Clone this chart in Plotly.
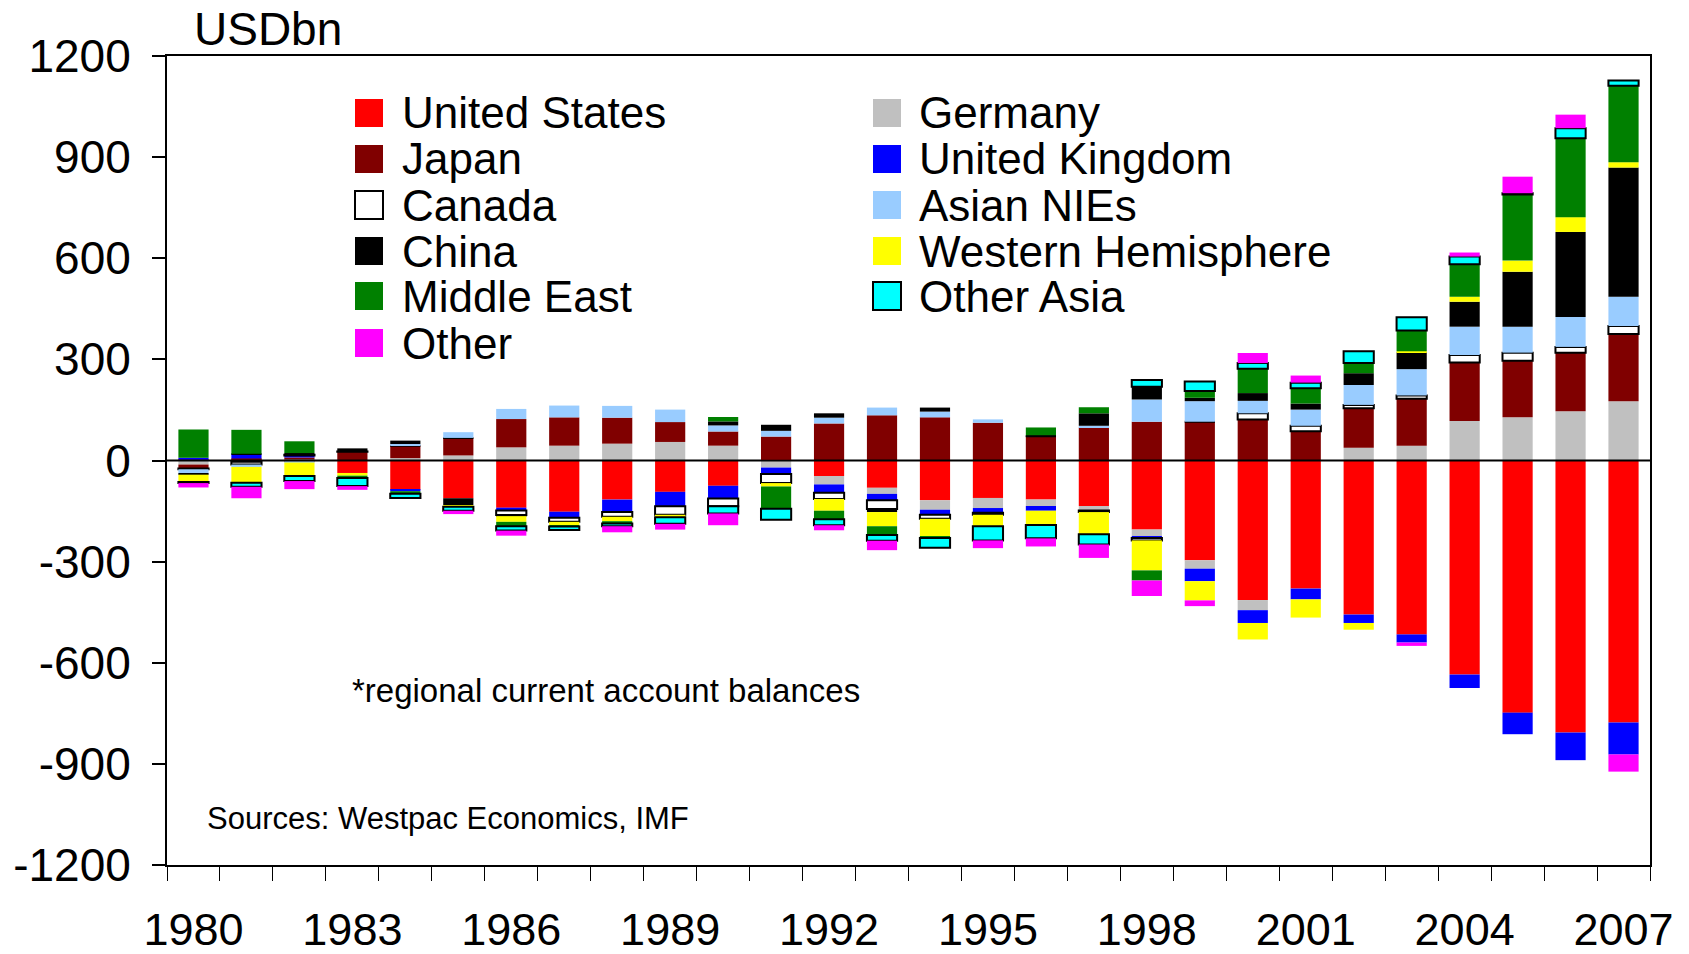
import plotly.graph_objects as go

years = list(range(1980, 2008))

us      = [2, 2, -3, -37, -87, -112, -140, -152, -116, -93, -75, 3, -46, -81, -118, -111, -116, -135, -205, -296, -414, -380, -457, -516, -635, -748, -807, -777]
germany = [-12, -4, 3, 0, 7, 15, 39, 44, 50, 55, 44, -21, -25, -18, -28, -30, -19, -13, -19, -25, -30, 0, 38, 44, 117, 128, 146, 176]
japan   = [-12, 4, 6, 26, 37, 52, 84, 84, 77, 59, 42, 68, 110, 134, 128, 112, 72, 98, 115, 115, 122, 87, 117, 139, 174, 168, 174, 199]
uk      = [6, 13, 6, 0, -4, 0, -8, -18, -37, -43, -38, -19, -25, -19, -15, -14, -14, 0, -6, -37, -38, -32, -25, -24, -40, -64, -82, -95]
canada  = [-2, -8, 2, 1, 0, 0, -14, -12, -14, -25, -23, -27, -18, -26, -12, -6, 0, -5, -7, 0, 18, 16, 10, 10, 22, 24, 17, 24]
nies    = [-14, -7, -3, 0, 5, 17, 30, 35, 35, 37, 18, 17, 17, 23, 17, 10, 0, 5, 66, 61, 37, 48, 59, 78, 84, 77, 89, 87]
china   = [-2, 1, 5, 9, 10, -20, -3, 0, 0, 0, 12, 18, 13, -9, 12, 0, 3, 37, 38, 10, 23, 18, 35, 50, 74, 163, 252, 383]
west_h  = [-22, -47, -40, -8, 0, -5, -17, -10, -13, -7, 0, -10, -35, -42, -52, -34, -42, -66, -89, -57, -49, -54, -20, 3, 15, 33, 44, 16]
mid_e   = [84, 71, 35, -7, -8, 0, -13, -4, -7, 0, 13, -66, -25, -26, -5, 0, 23, 18, -30, 20, 72, 45, 30, 62, 96, 196, 234, 227]
oth_asia= [-3, -12, -15, -24, -12, -12, -13, -10, -8, -20, -21, -33, -18, -17, -29, -42, -40, -30, 20, 28, 17, 17, 35, 39, 23, 4, 30, 15]
other   = [-13, -34, -24, -11, 0, -10, -15, 0, -18, -17, -35, 0, -15, -28, 0, -23, -24, -40, -46, -17, 30, 21, 0, -10, 12, 49, 40, -51]

names  = ["United States", "Germany", "Japan", "United Kingdom", "Canada", "Asian NIEs",
          "China", "Western Hemisphere", "Middle East", "Other Asia", "Other"]
series = [us, germany, japan, uk, canada, nies, china, west_h, mid_e, oth_asia, other]
colors = ["#FF0000", "#C0C0C0", "#800000", "#0000FF", "#FFFFFF", "#99CCFF",
          "#000000", "#FFFF00", "#008000", "#00FFFF", "#FF00FF"]
outlined = {"Canada", "Other Asia"}

y_ticks = [-1200, -900, -600, -300, 0, 300, 600, 900, 1200]
y_ticktext = [str(v) for v in y_ticks]
x_label_years = list(range(1980, 2008, 3))

# layout geometry (pixels)
W, H = 1689, 954
L, R, T, B = 167, 1650, 56, 865
FONT = "Liberation Sans, Arial, sans-serif"

def px_x(px):
    return (px - L) / (R - L)

def px_y(py):
    return (B - py) / (B - T)

fig = go.Figure()
for name, vals, col in zip(names, series, colors):
    lw = 2 if name in outlined else 0
    fig.add_trace(go.Bar(
        x=years, y=vals, name=name,
        marker=dict(color=col, line=dict(color="black", width=lw)),
        showlegend=False,
    ))

shapes = [dict(type="line", xref="paper", yref="y", x0=0, x1=1, y0=0, y1=0,
               line=dict(color="black", width=2), layer="above")]
annotations = []

# custom legend (two columns, in the reference's layout)
legend_left = [("United States", 0), ("Japan", 2), ("Canada", 4), ("China", 6), ("Middle East", 8), ("Other", 10)]
legend_right = [("Germany", 1), ("United Kingdom", 3), ("Asian NIEs", 5), ("Western Hemisphere", 7), ("Other Asia", 9)]
row_centers = [113, 159, 205, 251, 296, 343]
for col_items, sq_x, txt_x in [(legend_left, 355, 400), (legend_right, 873, 917)]:
    for (nm, idx), cy in zip(col_items, row_centers):
        half = 14
        lw = 2 if nm in outlined else 0
        shapes.append(dict(type="rect", xref="paper", yref="paper",
                           x0=px_x(sq_x), x1=px_x(sq_x + 2 * half),
                           y0=px_y(cy + half), y1=px_y(cy - half),
                           fillcolor=colors[idx],
                           line=dict(color="black", width=lw if lw else 0)))
        annotations.append(dict(xref="paper", yref="paper", x=px_x(txt_x), y=px_y(cy),
                                xanchor="left", yanchor="middle", showarrow=False,
                                text=nm, font=dict(size=44, color="black", family=FONT)))

annotations += [
    dict(xref="paper", yref="paper", x=px_x(192), y=px_y(29), xanchor="left", yanchor="middle",
         showarrow=False, text="USDbn", font=dict(size=46, color="black", family=FONT)),
    dict(xref="paper", yref="paper", x=px_x(350), y=px_y(690), xanchor="left", yanchor="middle",
         showarrow=False, text="*regional current account balances", font=dict(size=33, color="black", family=FONT)),
    dict(xref="paper", yref="paper", x=px_x(205), y=px_y(818), xanchor="left", yanchor="middle",
         showarrow=False, text="Sources: Westpac Economics, IMF", font=dict(size=31, color="black", family=FONT)),
]

fig.update_layout(
    width=W, height=H,
    margin=dict(l=L, r=W - R, t=T, b=H - B, autoexpand=False),
    barmode="relative", bargap=0.43,
    plot_bgcolor="white", paper_bgcolor="white",
    font=dict(family=FONT, color="black"),
    showlegend=False,
    shapes=shapes, annotations=annotations,
)
fig.update_xaxes(
    range=[1979.5, 2007.5], showgrid=False, zeroline=False,
    showline=True, linecolor="black", linewidth=2, mirror=True,
    tickmode="array", tickvals=x_label_years, ticktext=[str(y) for y in x_label_years],
    ticks="", tickfont=dict(size=45, family=FONT, color="black"),
    ticklabelstandoff=24,
    minor=dict(ticks="outside", ticklen=14, tickwidth=1, tickcolor="black",
               tick0=1979.5, dtick=1, showgrid=False),
)
fig.update_yaxes(
    range=[-1200, 1200], showgrid=False, zeroline=False,
    showline=True, linecolor="black", linewidth=2, mirror=True,
    tickmode="array", tickvals=y_ticks, ticktext=y_ticktext,
    ticks="outside", ticklen=13, tickwidth=2, tickcolor="black",
    tickfont=dict(size=46, family=FONT, color="black"),
    ticklabelstandoff=12,
)

fig.write_html("out.html", config={"displayModeBar": False},
               post_script="document.body.style.margin='0px';document.body.style.overflow='hidden';")
